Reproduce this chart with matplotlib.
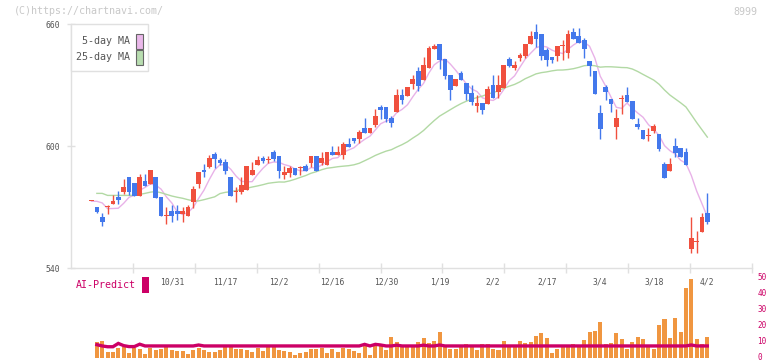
import numpy as np
import pandas as pd
import matplotlib.pyplot as plt
from matplotlib.patches import Rectangle
from matplotlib.transforms import ScaledTranslation

# --- price data (yen) ---
opens = [572.8, 570.0, 565.1, 570.0, 571.6, 574.9, 577.5, 584.8, 581.8, 575.6,
         582.8, 581.5, 584.8, 574.9, 565.7, 568.0, 568.0, 566.7, 565.7, 572.6,
         581.5, 588.4, 589.7, 595.9, 593.3, 592.0, 584.8, 577.5, 577.5, 578.4,
         585.7, 590.7, 594.1, 593.1, 597.0, 595.1, 585.7, 586.7, 589.2, 589.2,
         590.2, 591.6, 595.1, 591.6, 590.7, 597.0, 595.6, 595.6, 601.0, 603.9,
         603.4, 608.9, 606.4, 610.3, 619.2, 619.2, 613.8, 616.7, 625.1, 624.6,
         630.5, 636.9, 632.5, 638.4, 647.7, 650.2, 642.8, 634.9, 629.5, 635.9,
         631.0, 626.1, 619.7, 621.1, 620.7, 630.0, 626.6, 628.5, 642.8, 638.4,
         643.3, 644.3, 650.2, 656.1, 655.1, 647.2, 643.8, 644.3, 649.2, 645.7,
         656.1, 654.1, 652.1, 641.8, 636.9, 616.2, 629.0, 623.1, 609.3, 623.1,
         625.1, 622.1, 610.8, 607.9, 604.9, 607.4, 605.9, 591.1, 587.7, 600.0,
         599.0, 597.0, 549.3, 552.8, 557.7, 567.0]
highs = [572.8, 570.0, 567.0, 571.0, 575.9, 577.9, 583.8, 584.8, 581.8, 586.4,
         586.4, 588.2, 584.8, 574.9, 570.0, 571.0, 571.0, 570.0, 571.0, 580.2,
         587.4, 591.3, 595.6, 596.9, 594.3, 593.6, 584.8, 579.8, 584.8, 590.3,
         592.1, 595.1, 595.1, 595.1, 598.0, 595.1, 590.2, 590.2, 589.2, 590.2,
         591.2, 595.1, 595.1, 597.0, 597.0, 600.0, 600.0, 602.0, 603.9, 603.9,
         607.9, 613.8, 608.9, 618.2, 620.2, 619.2, 614.8, 628.0, 628.0, 629.0,
         634.9, 638.9, 643.8, 649.2, 650.2, 650.2, 642.8, 634.9, 633.0, 636.9,
         631.0, 630.0, 625.1, 621.1, 629.5, 634.9, 634.9, 639.8, 643.8, 641.8,
         645.7, 650.2, 656.6, 660.0, 655.1, 648.2, 643.8, 649.2, 652.1, 657.0,
         658.0, 658.0, 653.1, 641.8, 636.9, 620.2, 630.0, 623.1, 618.2, 625.1,
         629.0, 622.1, 613.8, 607.9, 608.9, 610.8, 605.9, 592.1, 594.1, 603.9,
         599.0, 599.0, 565.1, 558.2, 567.0, 576.9]
lows = [572.8, 567.0, 560.6, 566.7, 571.6, 571.6, 576.2, 575.9, 575.6, 575.6,
        580.5, 581.5, 574.6, 565.7, 561.8, 562.8, 563.8, 562.8, 565.7, 569.7,
        579.5, 584.8, 589.0, 589.0, 590.7, 586.1, 575.6, 572.6, 576.2, 578.4,
        585.7, 590.7, 591.6, 591.6, 592.6, 584.4, 583.8, 584.8, 585.7, 585.7,
        587.7, 589.7, 587.7, 590.7, 590.7, 595.6, 595.6, 593.6, 599.5, 601.5,
        601.5, 606.4, 606.4, 609.3, 613.3, 611.8, 609.3, 616.7, 620.7, 624.6,
        628.0, 627.0, 632.5, 638.4, 647.7, 637.9, 633.0, 622.6, 629.5, 632.5,
        622.6, 620.2, 616.7, 615.7, 620.7, 623.6, 623.6, 628.5, 638.9, 637.4,
        641.8, 643.3, 650.2, 648.7, 642.3, 639.3, 640.8, 641.8, 642.3, 643.3,
        652.6, 650.7, 643.3, 634.4, 625.6, 603.4, 622.6, 616.7, 603.4, 615.7,
        621.6, 613.3, 608.4, 603.4, 602.5, 606.4, 597.5, 584.3, 587.7, 594.6,
        594.6, 590.7, 547.4, 547.4, 557.7, 561.6]
closes = [572.8, 567.7, 562.8, 570.0, 573.0, 573.4, 579.8, 577.5, 575.6, 584.8,
          580.5, 588.2, 574.6, 565.7, 565.7, 565.7, 566.7, 568.0, 570.0, 578.9,
          587.4, 587.0, 594.3, 593.6, 591.6, 587.7, 575.6, 577.5, 580.8, 590.3,
          588.2, 593.1, 592.6, 593.1, 593.6, 587.7, 587.2, 589.2, 585.7, 589.2,
          587.7, 595.1, 587.7, 594.1, 597.0, 595.6, 597.0, 601.0, 599.5, 602.5,
          606.9, 606.4, 608.9, 614.8, 617.7, 613.3, 611.3, 625.1, 622.6, 629.0,
          633.0, 629.5, 639.8, 648.2, 649.2, 642.3, 634.4, 627.5, 633.0, 632.5,
          625.6, 621.6, 621.1, 617.7, 628.0, 623.6, 630.0, 639.8, 639.3, 639.8,
          644.8, 650.2, 654.1, 652.6, 644.3, 642.3, 642.3, 649.2, 649.2, 655.1,
          652.6, 650.7, 647.7, 639.3, 625.6, 608.4, 626.6, 620.7, 613.8, 623.1,
          621.6, 613.3, 609.3, 603.4, 604.9, 609.8, 598.5, 584.3, 591.1, 596.6,
          594.6, 590.7, 554.8, 552.8, 565.1, 562.6]

# moving-average values at the left edge (they need closes before the window)
ma5_head = [572.8, 572.8, 572.0, 569.2]
ma25_head = [np.nan, 576.7, 576.7, 575.7, 575.7, 575.7, 575.7, 575.7, 575.7, 576.2,
             576.7, 577.3, 577.6, 577.0, 576.2, 575.4, 574.8, 574.3, 573.6, 573.0,
             573.0, 573.6, 574.3, 575.0]

# volume (bottom panel) and AI-Predict line, first day has none
volume = [np.nan, 10.1, 10.5, 3.6, 3.6, 6.1, 6.7, 3.0, 6.1, 5.5, 2.3,
          6.1, 4.8, 5.5, 6.7, 4.8, 4.2, 4.2, 2.3, 4.8, 6.1,
          4.8, 3.6, 3.6, 4.8, 6.7, 6.7, 5.5, 5.5, 4.8, 3.6,
          6.1, 4.2, 6.7, 6.7, 4.8, 4.2, 3.6, 1.7, 3.0, 3.6,
          5.5, 5.5, 6.1, 3.0, 5.5, 3.6, 6.1, 5.5, 4.2, 3.0,
          7.4, 1.7, 8.6, 8.0, 4.8, 13.0, 9.9, 7.4, 7.4, 7.4,
          9.9, 12.4, 9.2, 10.5, 16.2, 6.7, 5.5, 5.5, 7.4, 8.6,
          6.7, 4.8, 8.6, 8.6, 5.5, 4.8, 10.5, 8.0, 8.0, 10.5,
          9.2, 9.9, 13.6, 15.5, 12.4, 3.0, 5.5, 6.7, 7.4, 8.6,
          7.4, 11.1, 16.2, 16.8, 22.5, 8.6, 9.2, 15.5, 11.8, 5.5,
          9.9, 13.0, 11.8, 6.7, 5.5, 20.6, 24.3, 12.4, 25.0, 16.2,
          43.9, 49.5, 11.8, 8.6, 13.0]
ai_predict = [np.nan, 8.2, 7.4, 6.9, 6.9, 9.0, 7.6, 7.0, 7.0, 8.5, 7.4,
              7.4, 7.4, 7.4, 7.4, 7.4, 7.4, 7.4, 7.4, 7.4, 8.0,
              7.4, 7.4, 7.4, 7.4, 7.4, 7.4, 7.4, 7.4, 7.4, 7.4,
              7.4, 7.4, 7.4, 7.4, 7.4, 7.4, 7.4, 7.4, 7.4, 7.4,
              7.4, 7.4, 7.4, 7.4, 7.4, 7.4, 7.4, 7.4, 7.4, 7.4,
              8.4, 7.4, 8.4, 8.0, 7.4, 7.4, 7.9, 7.4, 7.4, 7.4,
              7.4, 7.9, 7.4, 7.4, 8.0, 7.4, 7.4, 7.4, 7.4, 7.4,
              7.4, 7.4, 7.4, 7.4, 7.4, 7.4, 7.4, 7.4, 7.4, 7.4,
              7.4, 7.4, 7.4, 7.4, 7.4, 7.4, 7.4, 7.4, 7.4, 7.4,
              7.4, 7.4, 7.4, 7.4, 7.4, 7.4, 7.4, 7.4, 7.4, 7.4,
              7.4, 7.4, 7.4, 7.4, 7.4, 7.4, 7.4, 7.4, 7.4, 7.4,
              7.4, 8.0, 7.4, 7.4, 7.4]

date_labels = ['10/31', '11/17', '12/2', '12/16', '12/30', '1/19',
               '2/2', '2/17', '3/4', '3/18', '4/2']
date_idx = [15, 25, 35, 45, 55, 65, 75, 85, 95, 105, 115]

df = pd.DataFrame({'open': opens, 'high': highs, 'low': lows, 'close': closes})
x = np.arange(len(df))
ma5 = df['close'].rolling(5).mean().to_numpy()
ma5[:len(ma5_head)] = ma5_head
ma25 = df['close'].rolling(25).mean().to_numpy()
ma25[:len(ma25_head)] = ma25_head

UP = '#f0503e'
DOWN = '#4378ec'
GRID = '#e0e0e0'
MONO = 'DejaVu Sans Mono'
W, H = 772, 361

fig = plt.figure(figsize=(W / 100, H / 100), dpi=100)
ax = fig.add_axes([71 / W, (H - 268) / H, 681 / W, 244 / H])
axv = fig.add_axes([71 / W, (H - 357.7) / H, 681 / W, 79.4 / H])

xmin, xmax = -3.83, 123.34

# candles
up = df['close'] >= df['open']
cols = np.where(up, UP, DOWN)
ax.vlines(x, df['low'], df['high'], colors=cols, lw=1.0, zorder=3)
body_lo = np.minimum(df['open'], df['close'])
body_h = np.maximum(np.abs(df['close'] - df['open']), 0.45)
ax.bar(x, body_h, bottom=body_lo, width=0.88, color=cols, lw=0, zorder=4)

ax.plot(x, ma5, color='#e8b2e8', lw=1.0, zorder=2)
ax.plot(x, ma25, color='#b2d9a4', lw=1.0, zorder=2)

ax.set_xlim(xmin, xmax)
ax.set_ylim(540, 660)
for s in ['top', 'right']:
    ax.spines[s].set_visible(False)
for s in ['left', 'bottom']:
    ax.spines[s].set_color(GRID)
    ax.spines[s].set_linewidth(1.0)

ax.set_yticks([540, 600, 660])
ax.set_yticklabels(['540', '600', '660'], fontsize=5.8, family=MONO, color='#555555')
ax.tick_params(axis='y', direction='inout', length=6, color=GRID, width=1.0, pad=5)

ax.set_xticks(np.linspace(xmin, xmax, 12)[1:])
ax.set_xticklabels([])
ax.tick_params(axis='x', which='major', direction='inout', length=7, color=GRID, width=1.0)
ax.set_xticks(date_idx, minor=True)
ax.set_xticklabels(date_labels, minor=True, fontsize=5.8, family=MONO, color='#555555')
ax.tick_params(axis='x', which='minor', length=0, pad=7)

# legend box
lg_w, lg_h = 77 / 681, 47 / 244
ax.add_patch(Rectangle((0, 1 - lg_h), lg_w, lg_h, transform=ax.transAxes,
                       facecolor='white', edgecolor=GRID, lw=1.0, zorder=6, clip_on=False))
for k, (lab, c) in enumerate([('5-day MA', '#eab8ea'), ('25-day MA', '#b8ddb0')]):
    yc = 1 - (17 + 16 * k) / 244
    ax.text((129.5 - 71) / 681, yc, lab, transform=ax.transAxes, ha='right', va='center',
            fontsize=7.2, family=MONO, color='#555555', zorder=7)
    ax.add_patch(Rectangle(((136 - 71) / 681, yc - 7.5 / 244), 6.5 / 681, 15 / 244,
                           transform=ax.transAxes, facecolor=c, edgecolor='#666666',
                           lw=0.8, zorder=7, clip_on=False))

# volume panel
axv.bar(x, volume, width=0.75, color='#f09640', lw=0, zorder=2)
axv.plot(x, ai_predict, color='#cc0066', lw=2.4, zorder=3, solid_joinstyle='miter')
axv.set_xlim(xmin, xmax)
axv.set_ylim(0, 50)
for s in axv.spines.values():
    s.set_visible(False)
axv.set_xticks([])
axv.yaxis.tick_right()
axv.set_yticks([0, 10, 20, 30, 40, 50])
axv.set_yticklabels(['0', '10', '20', '30', '40', '50'], fontsize=5.5, family=MONO,
                    color='#cc0066')
axv.tick_params(axis='y', length=0, pad=4)
lift = ScaledTranslation(0, 1.5 / 100, fig.dpi_scale_trans)
for lab in axv.get_yticklabels():
    lab.set_transform(lab.get_transform() + lift)
axv.patch.set_alpha(0)

# texts around the chart
fig.text(76 / W, 1 - 285 / H, 'AI-Predict', fontsize=7.2, family=MONO, color='#cc0066',
         ha='left', va='center')
fig.add_artist(Rectangle((142 / W, 1 - 293 / H), 7 / W, 16 / H, transform=fig.transFigure,
                         facecolor='#cc0066', lw=0))
fig.text(14 / W, 1 - 11 / H, '(C)https://chartnavi.com/', fontsize=7.2, family=MONO,
         color='#c8c8c8', ha='left', va='center')
fig.text(757 / W, 1 - 12 / H, '8999', fontsize=7.2, family=MONO, color='#c8c8c8',
         ha='right', va='center')

fig.savefig('out.png', dpi=100)
